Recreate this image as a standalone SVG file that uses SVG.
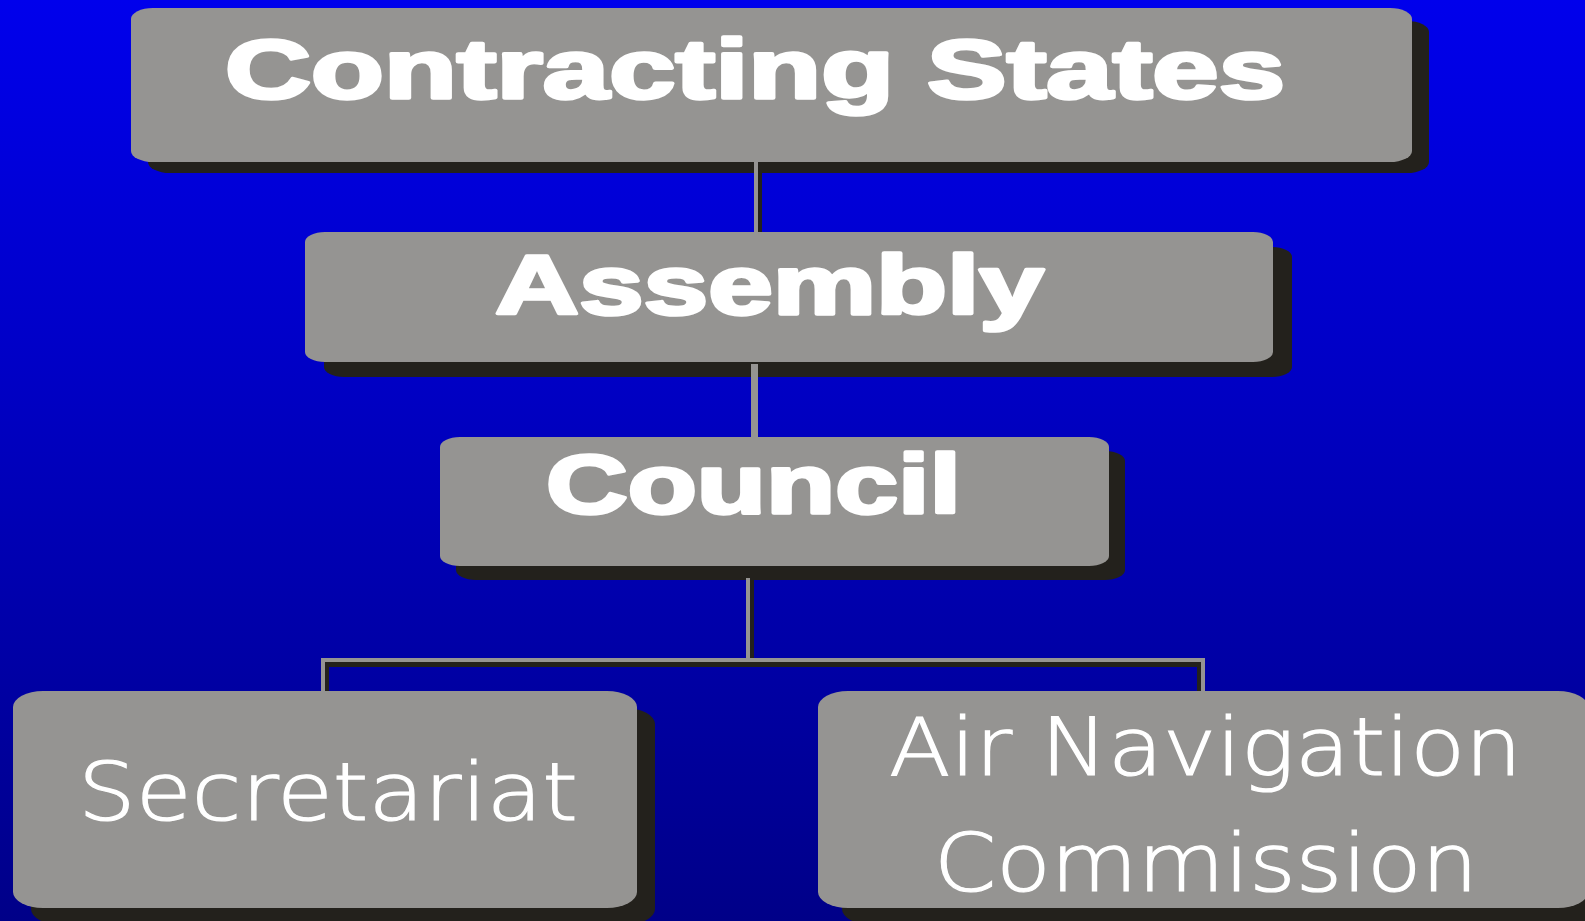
<svg xmlns="http://www.w3.org/2000/svg" width="1585" height="921" viewBox="0 0 1585 921">
  <defs>
    <linearGradient id="bg" x1="0" y1="0" x2="0" y2="1">
      <stop offset="0" stop-color="#0000EC"/>
      <stop offset="0.5" stop-color="#0000BC"/>
      <stop offset="1" stop-color="#000088"/>
    </linearGradient>
  </defs>
  <style>
    .box { fill: #959492; }
    .shadow { fill: #23211C; }
    .bold { font-family: "Liberation Sans", Arial, sans-serif; font-weight: bold; font-size: 84px; fill: #FFFFFF; stroke: #FFFFFF; stroke-width: 3.5; stroke-linejoin: round; }
    .light { font-family: "DejaVu Sans", sans-serif; font-weight: 200; font-size: 80px; fill: #FFFFFF; stroke: #FFFFFF; stroke-width: 1.2; }
    .cg { fill: #959492; }
    .cd { fill: #23211C; }
  </style>
  <rect x="0" y="0" width="1585" height="921" fill="url(#bg)"/>

  <g id="node-contracting-states">
    <rect class="shadow" x="148" y="21" width="1281" height="152" rx="22" ry="11"/>
    <rect class="box" x="131" y="8" width="1281" height="154" rx="22" ry="11"/>
    <text class="bold" x="225" y="98" textLength="1060" lengthAdjust="spacingAndGlyphs">Contracting States</text>
  </g>

  <g id="node-assembly">
    <rect class="shadow" x="324" y="247" width="968" height="130" rx="20" ry="10"/>
    <rect class="box" x="305" y="232" width="968" height="130" rx="20" ry="10"/>
    <text class="bold" x="495" y="314" textLength="549" lengthAdjust="spacingAndGlyphs">Assembly</text>
  </g>

  <g id="node-council">
    <rect class="shadow" x="456" y="451" width="669" height="129" rx="20" ry="10"/>
    <rect class="box" x="440" y="437" width="669" height="129" rx="20" ry="10"/>
    <text class="bold" x="546" y="513" textLength="415" lengthAdjust="spacingAndGlyphs">Council</text>
  </g>

  <g id="node-secretariat">
    <rect class="shadow" x="31" y="708" width="624" height="217" rx="30" ry="16"/>
    <rect class="box" x="13" y="691" width="624" height="217" rx="30" ry="16"/>
    <text class="light" x="78" y="820" textLength="500" lengthAdjust="spacingAndGlyphs">Secretariat</text>
  </g>

  <g id="node-air-navigation-commission">
    <rect class="shadow" x="842" y="708" width="770" height="217" rx="30" ry="16"/>
    <rect class="box" x="818" y="691" width="770" height="217" rx="30" ry="16"/>
    <text class="light" x="889" y="775" textLength="633" lengthAdjust="spacingAndGlyphs">Air Navigation</text>
    <text class="light" x="934" y="891" textLength="544" lengthAdjust="spacingAndGlyphs">Commission</text>
  </g>

  <g id="connectors">
    <rect class="cg" x="754" y="162" width="4" height="70"/>
    <rect class="cd" x="758" y="162" width="4" height="70"/>
    <rect class="cg" x="751" y="364" width="7" height="73"/>
    <rect class="cg" x="746" y="578" width="4" height="80"/>
    <rect class="cd" x="750" y="578" width="4" height="80"/>
    <rect class="cg" x="321" y="658" width="884" height="4"/>
    <rect class="cd" x="325" y="662" width="872" height="5"/>
    <rect class="cg" x="321" y="658" width="4" height="33"/>
    <rect class="cd" x="325" y="662" width="4" height="29"/>
    <rect class="cg" x="1201" y="658" width="4" height="33"/>
    <rect class="cd" x="1197" y="662" width="4" height="29"/>
  </g>
</svg>
